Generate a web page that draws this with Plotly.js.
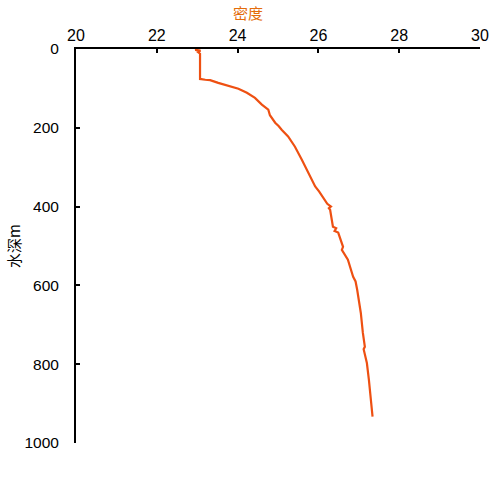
<!DOCTYPE html>
<html>
<head>
<meta charset="utf-8">
<script src="https://cdn.plot.ly/plotly-3.0.1.min.js"></script>
<style>html,body{margin:0;padding:0;background:#fff;}#chart{width:500px;height:500px;}</style>
</head>
<body>
<div id="chart"></div>
<script>
// density (sigma-t) readings along the profile
var density = [23.00, 22.95, 23.08, 23.02, 23.07, 23.07, 23.20, 23.32, 23.52, 23.77, 23.90, 24.02, 24.23, 24.30, 24.43, 24.60, 24.66, 24.76, 24.80, 24.88, 24.93, 25.02, 25.09, 25.25, 25.30, 25.42, 25.59, 25.66, 25.74, 25.92, 26.02, 26.11, 26.22, 26.31, 26.26, 26.29, 26.36, 26.44, 26.40, 26.49, 26.61, 26.58, 26.73, 26.86, 26.92, 26.96, 27.03, 27.05, 27.10, 27.15, 27.12, 27.20, 27.25, 27.30, 27.34];
// depth in metres
var depth   = [0, 2, 4, 8, 12, 76, 78, 79, 86, 93, 96, 101, 111, 115, 124, 141, 146, 154, 168, 179, 187, 196, 205, 222, 230, 248, 281, 296, 314, 349, 362, 377, 393, 400, 404, 408, 451, 455, 462, 466, 502, 510, 535, 578, 590, 611, 654, 670, 720, 756, 762, 797, 840, 891, 933];
var xTicks = [20, 22, 24, 26, 28, 30];
var yTicks = [0, 200, 400, 600, 800, 1000];

var trace = {
  x: density, y: depth, type: 'scatter', mode: 'lines',
  line: {color: '#EE5012', width: 2.2}, hoverinfo: 'skip'
};
var layout = {
  width: 500, height: 500,
  margin: {l: 76, r: 20, t: 49, b: 57},
  paper_bgcolor: '#fff', plot_bgcolor: '#fff',
  showlegend: false,
  font: {family: 'Liberation Sans, Arial, sans-serif', color: '#000'},
  title: {
    text: '密度', x: 0.496, xanchor: 'center', xref: 'container',
    y: 0.972, yanchor: 'middle', yref: 'container',
    font: {family: 'Noto Sans CJK SC, sans-serif', size: 15, color: '#E46C0A'}
  },
  xaxis: {
    side: 'top', range: [20, 30], tickvals: xTicks, ticktext: xTicks.map(String),
    ticks: 'inside', ticklen: 4, tickwidth: 2, tickcolor: '#000',
    showline: true, linecolor: '#000', linewidth: 2,
    showgrid: false, zeroline: false, mirror: false,
    tickfont: {size: 16, color: '#000'}
  },
  yaxis: {
    range: [1000, 0], tickvals: yTicks, ticktext: yTicks.map(String),
    ticks: 'inside', ticklen: 4, tickwidth: 2, tickcolor: '#000',
    showline: true, linecolor: '#000', linewidth: 2,
    showgrid: false, zeroline: false, mirror: false,
    ticklabelstandoff: 12,
    tickfont: {size: 15.5, color: '#000'},
    title: {text: '水深m', standoff: 0, font: {family: 'Noto Sans CJK SC, sans-serif', size: 15, color: '#000'}}
  }
};
Plotly.newPlot('chart', [trace], layout, {staticPlot: true, displayModeBar: false});
</script>
</body>
</html>
